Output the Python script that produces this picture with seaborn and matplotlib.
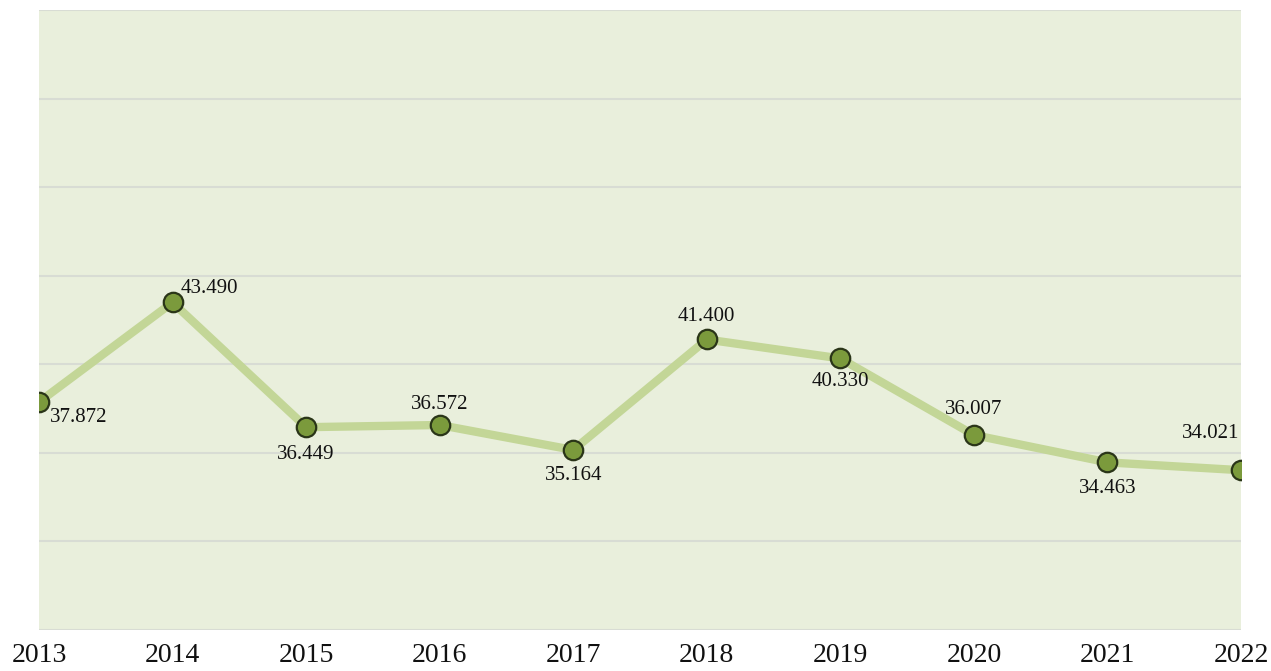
import numpy as np
import pandas as pd
import seaborn as sns
import matplotlib.pyplot as plt

# Chart values
years = [2013, 2014, 2015, 2016, 2017, 2018, 2019, 2020, 2021, 2022]
values = [37.872, 43.490, 36.449, 36.572, 35.164, 41.400, 40.330, 36.007, 34.463, 34.021]
labels = ["37.872", "43.490", "36.449", "36.572", "35.164",
          "41.400", "40.330", "36.007", "34.463", "34.021"]

# label offsets in pixels (dx, dy)
offsets = [(40, -16), (37, 14), (0, -27), (0, 21), (0, -26),
           (0, 23), (0, -23), (0, 26), (0, -26), (-30, 37)]

df = pd.DataFrame({"year": years, "value": values})

sns.set_theme(style="white")
plt.rcParams['font.family'] = ['Liberation Serif', 'DejaVu Serif']

fig = plt.figure(figsize=(12.71, 6.71), dpi=100)
ax = fig.add_axes([39 / 1271, 41 / 671, 1202 / 1271, 620 / 671])
ax.set_facecolor("#e9efdc")

sns.lineplot(data=df, x="year", y="value", ax=ax, color="#c3d697",
             linewidth=6, marker="o", markersize=14,
             markerfacecolor="#7b9a3c", markeredgecolor="#2a3518",
             markeredgewidth=1.6, zorder=3)

for x, y, lab, (dx, dy) in zip(years, values, labels, offsets):
    ax.annotate(lab, (x, y), xytext=(dx, dy), textcoords="offset pixels",
                ha="center", va="center", fontsize=15, color="#111111")

ax.set_xlim(years[0], years[-1])
ax.set_ylim(25, 60)
ax.set_yticks(np.arange(25, 61, 5))
ax.set_yticklabels([])
ax.yaxis.grid(True, color="#d8dcd4", linewidth=1.5)
ax.set_axisbelow(True)
ax.set_xticks(years)
ax.set_xticklabels([str(y) for y in years], fontsize=20, color="#111111")
ax.tick_params(axis="x", length=0, pad=9)
ax.tick_params(axis="y", length=0)
ax.set_xlabel("")
ax.set_ylabel("")
for s in ax.spines.values():
    s.set_visible(False)

fig.savefig("out.png", dpi=100)
